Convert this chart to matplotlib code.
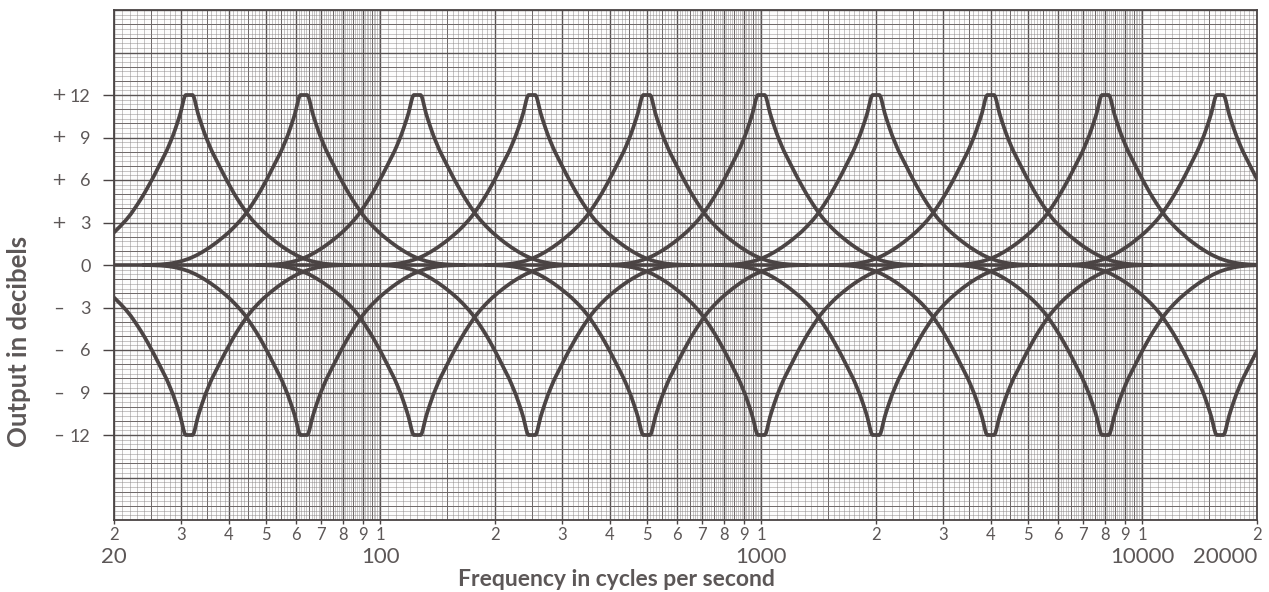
import numpy as np
import matplotlib
matplotlib.use("Agg")
import matplotlib.pyplot as plt
from matplotlib.ticker import FixedLocator, NullLocator

# === DATA ===
# band centres of the octave equaliser, Hz
centers = [31.5, 63, 125, 250, 500, 1000, 2000, 4000, 8000, 16000]

# one side of a band's boost curve: distance from centre in octaves -> dB
oct_offset = [0.0, 0.03, 0.04, 0.05, 0.06, 0.075, 0.09, 0.105, 0.12, 0.14,
              0.16, 0.18, 0.20, 0.225, 0.25, 0.275, 0.30, 0.33, 0.36, 0.39,
              0.42, 0.45, 0.48, 0.51, 0.55, 0.60, 0.65, 0.70, 0.76, 0.82,
              0.88, 0.94, 1.0, 1.06, 1.12, 1.18, 1.25, 1.32, 1.4]
boost_db = [12.0, 12.0, 11.88, 11.6, 11.25, 10.75, 10.35, 9.98, 9.62, 9.16,
            8.76, 8.37, 8.0, 7.6, 7.2, 6.8, 6.4, 5.94, 5.5, 5.07,
            4.67, 4.29, 3.93, 3.58, 3.18, 2.74, 2.34, 1.99, 1.6, 1.25,
            0.94, 0.67, 0.45, 0.29, 0.17, 0.09, 0.04, 0.015, 0.0]

# flat response (all controls at zero)
flat_f = [20, 20000]
flat_db = [0, 0]

# axis ticks
ytick_vals = [12, 9, 6, 3, 0, -3, -6, -9, -12]
ytick_text = ["12", "9", "6", "3", "0", "3", "6", "9", "12"]
ytick_sign = ["+", "+", "+", "+", "", "\u2013", "\u2013", "\u2013", "\u2013"]

xtick_vals = [20, 30, 40, 50, 60, 70, 80, 90, 100,
              200, 300, 400, 500, 600, 700, 800, 900, 1000,
              2000, 3000, 4000, 5000, 6000, 7000, 8000, 9000, 10000, 20000]
xtick_text = ["2", "3", "4", "5", "6", "7", "8", "9", "1",
              "2", "3", "4", "5", "6", "7", "8", "9", "1",
              "2", "3", "4", "5", "6", "7", "8", "9", "1", "2"]
decade_vals = [20, 100, 1000, 10000, 20000]
decade_text = ["20", "100", "1000", "10000", "20000"]

# === STYLE ===
ink = "#4b4444"
text_col = "#5c5757"
grid_col = "#8a8585"
plt.rcParams['font.family'] = ['Lato', 'DejaVu Sans']

fig = plt.figure(figsize=(12.69, 5.92), dpi=100)
fig.patch.set_facecolor("white")
ax = fig.add_axes([114 / 1269, 72 / 592, (1257 - 114) / 1269, 510 / 592])
ax.set_facecolor("#fcfcfc")
ax.set_xscale("log")
ax.set_xlim(20, 20000)
ax.set_ylim(-18, 18)

# --- graph paper grid ---
mant_fine = np.concatenate([np.arange(1.0, 2.0, 0.05), np.arange(2.0, 10.0, 0.1)])
fine_x = []
for dec in [10, 100, 1000, 10000]:
    fine_x.extend(dec * mant_fine)
fine_x = [v for v in fine_x if 20 <= v <= 20000]
ax.vlines(fine_x, -18, 18, colors=grid_col, linewidth=0.45, alpha=0.75, zorder=1)

half_x = []
for dec in [10, 100, 1000, 10000]:
    half_x.extend(dec * np.arange(1.5, 10, 1.0))
half_x = [v for v in half_x if 20 <= v <= 20000]
ax.vlines(half_x, -18, 18, colors="#6e6868", linewidth=0.7, zorder=1)
ax.vlines(xtick_vals, -18, 18, colors="#5a5454", linewidth=1.0, zorder=1)

ax.hlines(np.arange(-18, 18.01, 1 / 3), 20, 20000, colors=grid_col,
          linewidth=0.45, alpha=0.75, zorder=1)
ax.hlines(np.arange(-18, 18.01, 1.0), 20, 20000, colors="#6e6868",
          linewidth=0.7, zorder=1)
ax.hlines(np.arange(-18, 18.01, 3.0), 20, 20000, colors="#5a5454",
          linewidth=1.0, zorder=1)

# --- response curves ---
side_off = np.array(oct_offset)
side_db = np.array(boost_db)
full_off = np.concatenate([-side_off[::-1], side_off[1:]])
full_db = np.concatenate([side_db[::-1], side_db[1:]])

ax.plot(flat_f, flat_db, color=ink, linewidth=2.6, solid_capstyle="butt", zorder=3)
for fc in centers:
    freqs = fc * 2.0 ** full_off
    ax.plot(freqs, full_db, color=ink, linewidth=2.7,
            solid_joinstyle="round", solid_capstyle="round", zorder=4)
    ax.plot(freqs, -full_db, color=ink, linewidth=2.7,
            solid_joinstyle="round", solid_capstyle="round", zorder=4)

# --- axes frame and ticks ---
for s in ax.spines.values():
    s.set_color("#4a4444")
    s.set_linewidth(1.3)

ax.yaxis.set_major_locator(FixedLocator(ytick_vals))
ax.set_yticklabels(ytick_text)
ax.yaxis.set_minor_locator(NullLocator())
ax.tick_params(axis="y", direction="out", length=8, width=1.0, color="#4a4444",
               pad=9, labelsize=13, labelcolor=text_col)

# signs sit in their own column left of the numbers
for y, sg in zip(ytick_vals, ytick_sign):
    ax.text(-0.0486, y, sg, transform=ax.get_yaxis_transform(), ha="center",
            va="center", fontsize=13, family="DejaVu Sans",
            color=text_col)

ax.xaxis.set_major_locator(FixedLocator(xtick_vals))
ax.set_xticklabels(xtick_text)
ax.xaxis.set_minor_locator(NullLocator())
ax.tick_params(axis="x", direction="out", length=3, width=1.0, color="#4a4444",
               pad=2, labelsize=12, labelcolor=text_col)

for xv, lab in zip(decade_vals, decade_text):
    ha = "right" if xv == 20000 else "center"
    ax.text(xv, -0.052, lab, transform=ax.get_xaxis_transform(), ha=ha,
            va="top", fontsize=16, color=text_col)

fig.text(616 / 1269, 1 - 579 / 592, "Frequency in cycles per second",
         ha="center", va="center", fontsize=16.5, fontweight="bold", color=text_col)
fig.text(19 / 1269, 1 - 341 / 592, "Output in decibels", rotation=90,
         ha="center", va="center", fontsize=18.5, fontweight="bold", color=text_col)

fig.savefig("out.png", dpi=100, facecolor="white")
